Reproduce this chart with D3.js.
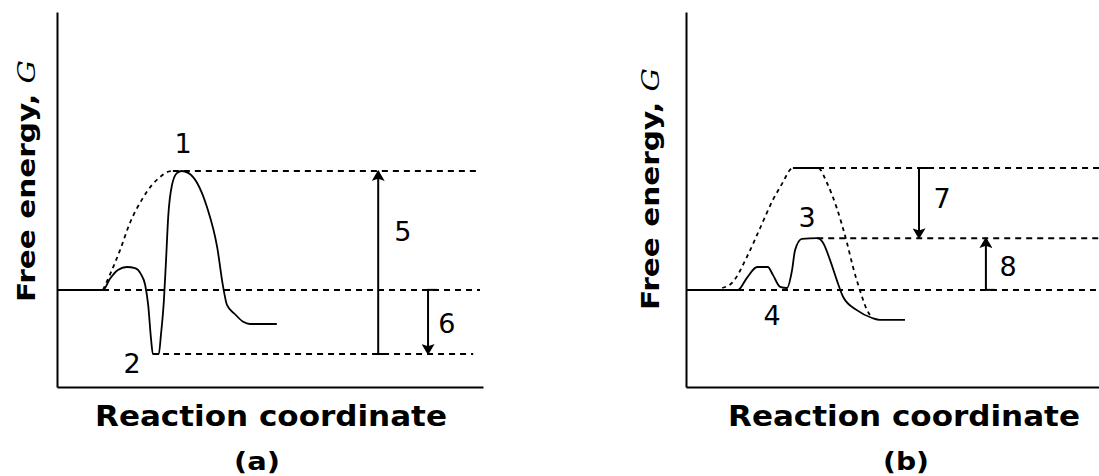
<!DOCTYPE html>
<html>
<head>
<meta charset="utf-8">
<script src="https://cdn.jsdelivr.net/npm/d3@7"></script>
<style>
  body { margin: 0; background: #fff; }
  svg { display: block; }
</style>
</head>
<body>
<svg id="chart"></svg>
<script>
// values: reaction coordinate (0-100) vs free energy G (0-100)

// (a) stepped pathway and the hypothetical one-step pathway
const curveA = [
  [0, 25.9], [10.8, 25.9], [12.4, 28.8], [14.3, 31.2], [16.4, 32], [18.3, 31.7],
  [19.7, 30.1], [20.7, 27.2], [21.4, 21.9], [22.1, 12.5], [22.5, 8.8], [23.9, 8.8],
  [24.4, 13.9], [25.1, 23.2], [25.6, 33.9], [26.1, 45.3], [27, 53.9], [28.2, 57.1],
  [29.3, 57.6], [30.8, 57.1], [32.9, 54.4], [35.2, 48], [37.6, 37.3], [39, 26.7],
  [39.9, 21.9], [41.8, 19.4], [43.7, 17.4], [45.3, 16.8], [51.6, 16.8]
];
const pathwayA = [
  [10.8, 25.9], [12.4, 29.9], [14.8, 36.5], [17.1, 43.7], [19.9, 49.9],
  [22.3, 53.9], [24.2, 56], [25.8, 57.3], [27.2, 57.6]
];
// [G, from, to]
const solidLevelsA = [[25.9, 0, 10.8]];
const dashedLevelsA = [[25.9, 10.8, 99.3], [57.6, 27.2, 99.3], [8.8, 24.9, 97.7]];
// [x, from G, to G]
const arrowsA = [[75.4, 8.8, 57.6], [87.1, 25.9, 8.8]];
const labelsA = [['1', 29.6, 65.1], ['2', 17.6, 6.4], ['5', 81.2, 41.6], ['6', 91.5, 17.1]];

// (b) catalysed pathway and the uncatalysed one
const curveB = [
  [0, 25.9], [12.2, 25.9], [14.3, 29.1], [16.7, 32], [19.2, 32], [20.4, 29.9],
  [22.1, 26.7], [23.7, 26.4], [24.9, 31.2], [25.6, 36.5], [27.2, 39.5], [30.8, 39.7],
  [32.2, 38.4], [33.8, 33.9], [35.4, 28.5], [36.9, 24], [40.1, 20.5], [43.7, 18.4],
  [45.5, 17.9], [51.4, 17.9]
];
const pathwayB = [
  [8.5, 26.4], [11, 28], [14.3, 34.7], [17.4, 42.4], [20.4, 49.9], [22.8, 54.7],
  [24.4, 57.9], [25.1, 58.4], [31, 58.4], [33.1, 54.4], [35.4, 47.7], [37.8, 38.4],
  [39.2, 32], [40.8, 25.9], [42.5, 20.5], [43.7, 18.4]
];
const solidLevelsB = [[25.9, 0, 12.2], [58.4, 25.1, 31]];
const dashedLevelsB = [[25.9, 12.2, 100], [39.7, 30.8, 100], [58.4, 31, 100]];
const arrowsB = [[54.7, 58.4, 39.7], [70.4, 25.9, 39.7]];
const labelsB = [['3', 28.4, 45.3], ['4', 20.2, 19.2], ['7', 60.1, 50.4], ['8', 75.6, 32.3]];

const xTitle = 'Reaction coordinate';
const yTitle = 'Free energy, ';
const panelTags = ['(a)', '(b)'];

const width = 1099;
const height = 476;
const boldFont = '"DejaVu Sans", sans-serif';

const svg = d3.select('#chart').attr('width', width).attr('height', height);

svg.append('defs').append('marker')
  .attr('id', 'head')
  .attr('markerUnits', 'userSpaceOnUse')
  .attr('viewBox', '0 0 10 10')
  .attr('refX', 9)
  .attr('refY', 5)
  .attr('markerWidth', 11)
  .attr('markerHeight', 13)
  .attr('orient', 'auto')
  .attr('preserveAspectRatio', 'none')
  .append('path')
  .attr('d', 'M0,0 L10,5 L0,10 L2,5 Z')
  .attr('fill', '#000');

const y = d3.scaleLinear().domain([0, 100]).range([387, 12]);

const panels = [
  { left: 57, curve: curveA, pathway: pathwayA, solid: solidLevelsA, dashed: dashedLevelsA,
    arrows: arrowsA, labels: labelsA, tag: panelTags[0], yLab: [26, 181], xLab: 271, tagX: 257 },
  { left: 686, curve: curveB, pathway: pathwayB, solid: solidLevelsB, dashed: dashedLevelsB,
    arrows: arrowsB, labels: labelsB, tag: panelTags[1], yLab: [650, 189], xLab: 904, tagX: 906 }
];

panels.forEach((p) => {
  const x = d3.scaleLinear().domain([0, 100]).range([p.left, p.left + 426]);
  const g = svg.append('g');
  const line = d3.line().x((d) => x(d[0])).y((d) => y(d[1])).curve(d3.curveMonotoneX);

  // axes: bare domain lines, no ticks
  g.append('g')
    .attr('transform', `translate(0,${y(0)})`)
    .call(d3.axisBottom(x).ticks(0).tickSizeOuter(0));
  g.append('g')
    .attr('transform', `translate(${x(0)},0)`)
    .call(d3.axisLeft(y).ticks(0).tickSizeOuter(0));
  g.selectAll('.domain').attr('stroke', '#000').attr('stroke-width', 2);

  // energy levels
  g.selectAll('.lvl-solid')
    .data(p.solid)
    .enter()
    .append('line')
    .attr('x1', (d) => x(d[1]))
    .attr('x2', (d) => x(d[2]))
    .attr('y1', (d) => y(d[0]))
    .attr('y2', (d) => y(d[0]))
    .attr('stroke', '#000')
    .attr('stroke-width', 2);

  g.selectAll('.lvl-dash')
    .data(p.dashed)
    .enter()
    .append('line')
    .attr('x1', (d) => x(d[1]))
    .attr('x2', (d) => x(d[2]))
    .attr('y1', (d) => y(d[0]))
    .attr('y2', (d) => y(d[0]))
    .attr('stroke', '#000')
    .attr('stroke-width', 2)
    .attr('stroke-dasharray', '6,5');

  g.append('path')
    .attr('d', line(p.pathway))
    .attr('fill', 'none')
    .attr('stroke', '#000')
    .attr('stroke-width', 1.8)
    .attr('stroke-dasharray', '4,4');

  g.append('path')
    .attr('d', line(p.curve))
    .attr('fill', 'none')
    .attr('stroke', '#000')
    .attr('stroke-width', 1.8);

  // arrows between levels, with a small cap at the tail
  g.selectAll('.arrow')
    .data(p.arrows)
    .enter()
    .append('line')
    .attr('x1', (d) => x(d[0]))
    .attr('x2', (d) => x(d[0]))
    .attr('y1', (d) => y(d[1]))
    .attr('y2', (d) => y(d[2]))
    .attr('stroke', '#000')
    .attr('stroke-width', 2)
    .attr('marker-end', 'url(#head)');

  g.selectAll('.cap')
    .data(p.arrows)
    .enter()
    .append('line')
    .attr('x1', (d) => x(d[0]) - 1)
    .attr('x2', (d) => x(d[0]) + 9)
    .attr('y1', (d) => y(d[1]))
    .attr('y2', (d) => y(d[1]))
    .attr('stroke', '#000')
    .attr('stroke-width', 2);

  g.selectAll('.num')
    .data(p.labels)
    .enter()
    .append('text')
    .attr('x', (d) => x(d[1]))
    .attr('y', (d) => y(d[2]))
    .attr('dy', '0.36em')
    .attr('text-anchor', 'middle')
    .style('font-family', '"DejaVu Sans", sans-serif')
    .style('font-size', '27px')
    .text((d) => d[0]);

  // titles
  g.append('text')
    .attr('x', p.xLab)
    .attr('y', 416)
    .attr('dy', '0.36em')
    .attr('text-anchor', 'middle')
    .attr('textLength', 352)
    .attr('lengthAdjust', 'spacingAndGlyphs')
    .style('font-family', boldFont)
    .style('font-weight', 'bold')
    .style('font-size', '28px')
    .text(xTitle);

  const yt = g.append('text')
    .attr('transform', `translate(${p.yLab[0]},${p.yLab[1]}) rotate(-90)`)
    .attr('dy', '0.36em')
    .attr('text-anchor', 'middle')
    .attr('textLength', 242)
    .attr('lengthAdjust', 'spacingAndGlyphs')
    .style('font-family', boldFont)
    .style('font-weight', 'bold')
    .style('font-size', '25px');
  yt.append('tspan').text(yTitle);
  yt.append('tspan')
    .style('font-family', '"DejaVu Serif", serif')
    .style('font-style', 'italic')
    .style('font-weight', 'normal')
    .text('G');

  g.append('text')
    .attr('x', p.tagX)
    .attr('y', 470)
    .attr('text-anchor', 'middle')
    .attr('textLength', 46)
    .attr('lengthAdjust', 'spacingAndGlyphs')
    .style('font-family', boldFont)
    .style('font-weight', 'bold')
    .style('font-size', '24px')
    .text(p.tag);
});
</script>
</body>
</html>
